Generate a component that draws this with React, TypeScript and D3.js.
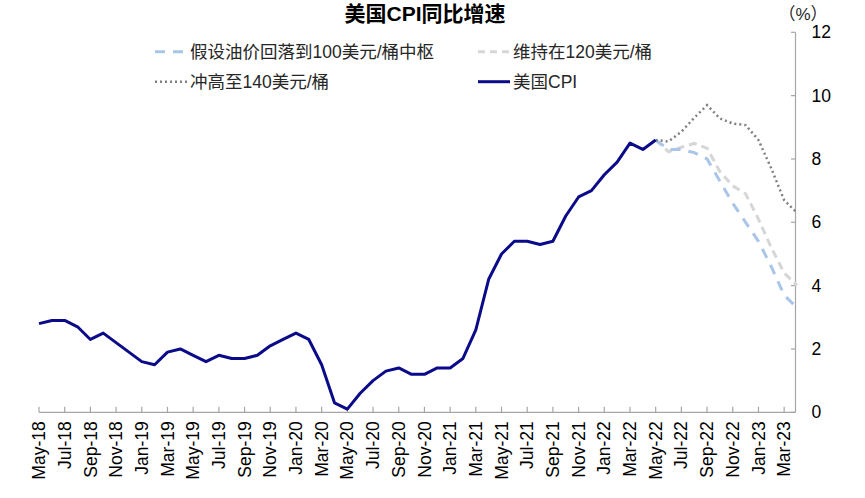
import React from "react";
import * as d3 from "d3";

const W = 865;
const H = 498;

// Monthly categories May-18 .. Apr-23
const months: Date[] = d3.timeMonth.range(new Date(2018, 4, 1), new Date(2023, 4, 1));

// 美国CPI YoY (%), May-18 .. May-22
const cpi: number[] = [
  2.8, 2.9, 2.9, 2.7, 2.3, 2.5, 2.2, 1.9,
  1.6, 1.5, 1.9, 2.0, 1.8, 1.6, 1.8, 1.7, 1.7, 1.8, 2.1, 2.3,
  2.5, 2.3, 1.5, 0.3, 0.1, 0.6, 1.0, 1.3, 1.4, 1.2, 1.2, 1.4,
  1.4, 1.7, 2.6, 4.2, 5.0, 5.4, 5.4, 5.3, 5.4, 6.2, 6.8, 7.0,
  7.5, 7.9, 8.5, 8.3, 8.6,
];

// Scenarios, May-22 .. Apr-23
const oil100: number[] = [8.6, 8.3, 8.3, 8.2, 8.0, 7.3, 6.6, 6.0, 5.4, 4.6, 3.7, 3.3];
const oil120: number[] = [8.6, 8.23, 8.37, 8.49, 8.34, 7.6, 7.15, 6.9, 6.1, 5.2, 4.4, 4.0];
const oil140: number[] = [8.6, 8.55, 8.86, 9.3, 9.7, 9.28, 9.12, 9.07, 8.6, 7.7, 6.7, 6.3];

const yTicks: number[] = [0, 2, 4, 6, 8, 10, 12];

const legendItems = [
  { label: "假设油价回落到100美元/桶中枢", color: "#a9c5e8", dash: "10,8", width: 3, col: 0, row: 0 },
  { label: "维持在120美元/桶", color: "#d6d6d6", dash: "7,5", width: 3, col: 1, row: 0 },
  { label: "冲高至140美元/桶", color: "#808080", dash: "2,3", width: 2.5, col: 0, row: 1 },
  { label: "美国CPI", color: "#0b0b8a", dash: "", width: 3, col: 1, row: 1 },
];

const FONT = "'Liberation Sans', Arial, 'Noto Sans CJK SC', sans-serif";

export default function App() {
  const x = d3.scalePoint<number>().domain(months.map((_, i) => i)).range([39, 797]);
  const y = d3.scaleLinear().domain([0, 12]).range([412.3, 32.3]);
  const axisX = 795.5;
  const baseY = y(0);

  const line = d3
    .line<number>()
    .x((_, i) => x(i) as number)
    .y((d) => y(d));
  const projStart = cpi.length - 1;
  const projLine = d3
    .line<number>()
    .x((_, i) => x(i + projStart) as number)
    .y((d) => y(d));

  const fmt = d3.timeFormat("%b-%y");
  const xTickIdx = months.map((_, i) => i).filter((i) => i % 2 === 0);

  return (
    <svg
      width={W}
      height={H}
      style={{ position: "absolute", left: 0, top: 0, background: "#fff", display: "block" }}
      fontFamily={FONT}
    >
      {/* title */}
      <text x={425} y={14} textAnchor="middle" dy="0.35em" fontSize={21} fontWeight="bold" fill="#000">
        美国CPI同比增速
      </text>
      <text x={803} y={14} textAnchor="middle" dy="0.35em" fontSize={17} fill="#262626">
        （%）
      </text>

      {/* legend */}
      {legendItems.map((it, k) => {
        const lx = it.col === 0 ? 155 : 478;
        const ly = it.row === 0 ? 51.7 : 81.7;
        return (
          <g key={k}>
            <line
              x1={lx}
              x2={lx + 32}
              y1={ly}
              y2={ly}
              stroke={it.color}
              strokeWidth={it.width}
              strokeDasharray={it.dash || undefined}
            />
            <text x={lx + 35} y={ly} dy="0.35em" fontSize={17.5} fill="#262626">
              {it.label}
            </text>
          </g>
        );
      })}

      {/* right axis */}
      <line x1={axisX} x2={axisX} y1={y(12)} y2={baseY} stroke="#a6a6a6" strokeWidth={1.2} />
      {yTicks.map((t) => (
        <g key={t}>
          <line x1={axisX - 4.5} x2={axisX} y1={y(t)} y2={y(t)} stroke="#a6a6a6" strokeWidth={1.2} />
          <text x={811.5} y={y(t)} dy="0.35em" fontSize={17.5} fill="#000">
            {t}
          </text>
        </g>
      ))}

      {/* bottom axis */}
      <line x1={39} x2={axisX} y1={baseY} y2={baseY} stroke="#a6a6a6" strokeWidth={1.2} />
      {xTickIdx.map((i) => (
        <g key={i}>
          <line x1={x(i)} x2={x(i)} y1={baseY - 5.5} y2={baseY} stroke="#a6a6a6" strokeWidth={1.2} />
          <text
            transform={`translate(${x(i)},${baseY + 9}) rotate(-90)`}
            textAnchor="end"
            dy="0.35em"
            fontSize={17.5}
            fill="#000"
          >
            {fmt(months[i])}
          </text>
        </g>
      ))}

      {/* scenario lines */}
      <path d={projLine(oil120) || ""} fill="none" stroke="#d6d6d6" strokeWidth={3} strokeDasharray="8,5" />
      <path d={projLine(oil100) || ""} fill="none" stroke="#a9c5e8" strokeWidth={3} strokeDasharray="10,8" />
      <path d={projLine(oil140) || ""} fill="none" stroke="#808080" strokeWidth={2.5} strokeDasharray="2,3" />

      {/* CPI */}
      <path d={line(cpi) || ""} fill="none" stroke="#0b0b8a" strokeWidth={3} strokeLinejoin="round" />
    </svg>
  );
}
